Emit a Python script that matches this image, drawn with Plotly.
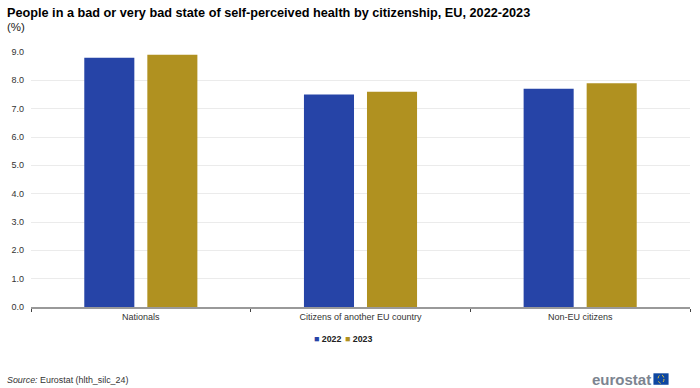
import plotly.graph_objects as go

categories = ["Nationals", "Citizens of another EU country", "Non-EU citizens"]
values_2022 = [8.8, 7.5, 7.7]
values_2023 = [8.9, 7.6, 7.9]
tick_values = [0, 1, 2, 3, 4, 5, 6, 7, 8, 9]
BLUE = "#2644a7"
GOLD = "#b09120"
FONT = "Liberation Sans, Arial, sans-serif"

fig = go.Figure()
fig.add_bar(name="2022", x=categories, y=values_2022, marker=dict(color=BLUE, line=dict(width=0)))
fig.add_bar(name="2023", x=categories, y=values_2023, marker=dict(color=GOLD, line=dict(width=0)))

fig.update_layout(
    width=700, height=388, margin=dict(l=31.4, r=10, t=52, b=81),
    paper_bgcolor="white", plot_bgcolor="white", showlegend=False,
    barmode="group", bargap=0.426, bargroupgap=0.206,
    font=dict(family=FONT, size=9, color="#333333"),
    xaxis=dict(type="category", range=[-0.5, 2.5], tickson="boundaries", ticks="outside",
               ticklen=3, tickwidth=1, tickcolor="#444444", showline=True,
               linecolor="#999999", linewidth=2, showgrid=False,
               tickfont=dict(size=9, color="#333333")),
    yaxis=dict(range=[0, 9], tickvals=tick_values, tickformat=".1f", ticks="",
               ticklabelstandoff=6,
               gridcolor="#ebebeb", gridwidth=1, zeroline=False, showline=False,
               tickfont=dict(size=9, color="#333333")),
    annotations=[
        dict(xref="paper", yref="paper", x=-0.0395, y=1.151, xanchor="left", yanchor="middle", showarrow=False,
             text="<b>People in a bad or very bad state of self-perceived health by citizenship, EU, 2022-2023</b>",
             font=dict(size=12.7, color="#000000")),
        dict(xref="paper", yref="paper", x=-0.0395, y=1.098, xanchor="left", yanchor="middle", showarrow=False,
             text="(%)", font=dict(size=11.5, color="#222222")),
        dict(xref="paper", yref="paper", x=0.4265, y=-0.125, xanchor="left", yanchor="middle", showarrow=False,
             text=f"<span style='color:{BLUE}'>■</span><b> 2022</b>", font=dict(size=8.8, color="#222222")),
        dict(xref="paper", yref="paper", x=0.474, y=-0.125, xanchor="left", yanchor="middle", showarrow=False,
             text=f"<span style='color:{GOLD}'>■</span><b> 2023</b>", font=dict(size=8.8, color="#222222")),
        dict(xref="paper", yref="paper", x=-0.0395, y=-0.285, xanchor="left", yanchor="middle", showarrow=False,
             text="<i>Source:</i> Eurostat (hlth_silc_24)", font=dict(size=8.9, color="#333333")),
        dict(xref="paper", yref="paper", x=0.9445, y=-0.2825, xanchor="right", yanchor="middle", showarrow=False,
             text="<b>eurostat</b>", font=dict(size=15, color="#7c8490")),
    ],
    shapes=[
        dict(type="rect", xref="paper", yref="paper", x0=0.9445, x1=0.9675, y0=-0.305, y1=-0.26,
             fillcolor="#0e47a1", line=dict(width=0)),
        dict(type="circle", xref="paper", yref="paper", x0=0.9515, x1=0.9605, y0=-0.2995, y1=-0.2655,
             fillcolor="rgba(0,0,0,0)", line=dict(width=1, color="#d9c040", dash="dot")),
    ],
)
fig.write_html("out.html", config=dict(displayModeBar=False),
               post_script="document.body.style.margin='0';document.documentElement.style.overflow='hidden';")
